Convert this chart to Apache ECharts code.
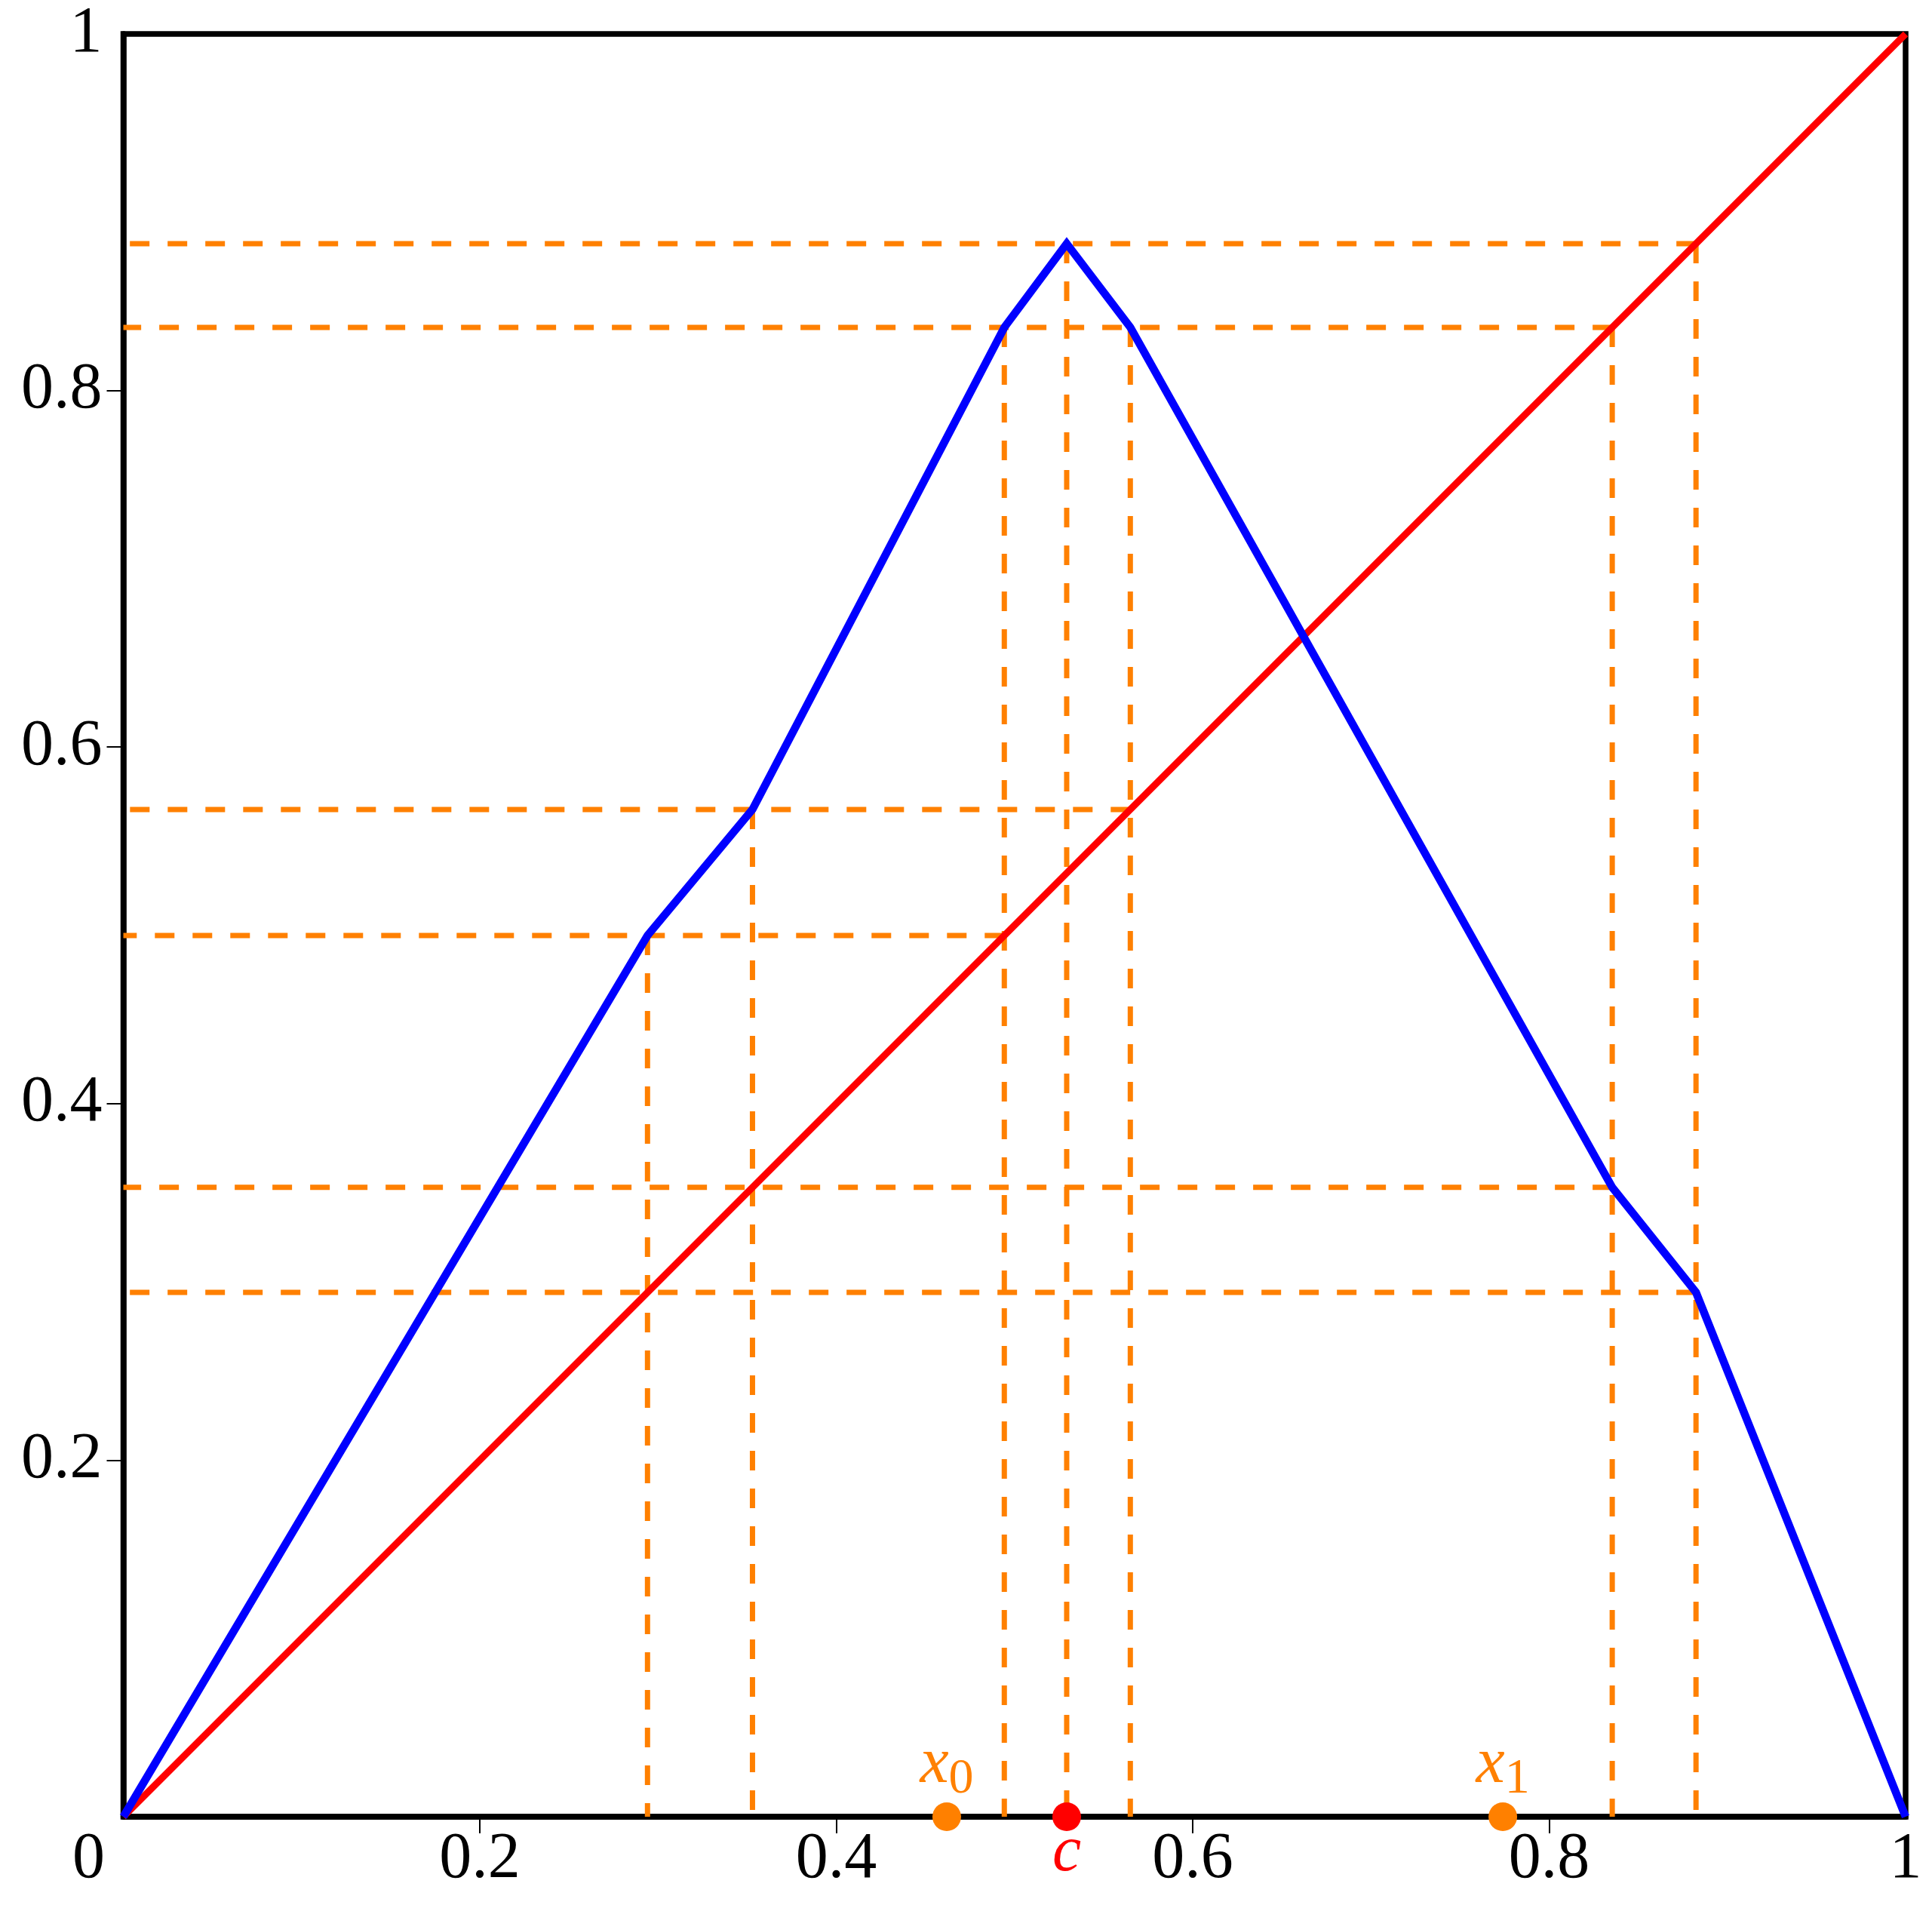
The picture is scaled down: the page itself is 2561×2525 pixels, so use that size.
<!DOCTYPE html>
<html>
<head>
<meta charset="utf-8">
<script src="https://cdn.jsdelivr.net/npm/echarts@6/dist/echarts.min.js"></script>
<style>
  html, body { margin: 0; padding: 0; background: #fff; }
  #chart { width: 2561px; height: 2525px; }
</style>
</head>
<body>
<div id="chart"></div>
<script>
// piecewise map (blue)
const mapX = [0, 0.2941, 0.353, 0.4943, 0.5293, 0.565, 0.8354, 0.8824, 1];
const mapY = [0, 0.4943, 0.565, 0.8354, 0.8824, 0.8354, 0.353, 0.2941, 0];
// diagonal y = x (red)
const diagX = [0, 1];
const diagY = [0, 1];
// dashed guides: horizontal ones (level, right end) and vertical ones (position, top end)
const guideHY = [0.8824, 0.8354, 0.565, 0.4943, 0.353, 0.2941];
const guideHEnd = [0.8824, 0.8354, 0.565, 0.4943, 0.8354, 0.8824];
const guideVX = [0.2941, 0.353, 0.4943, 0.5293, 0.565, 0.8354, 0.8824];
const guideVTop = [0.4943, 0.565, 0.8354, 0.8824, 0.8354, 0.8354, 0.8824];
// marked points on the x axis
const orbitX = [0.462, 0.774];
const orbitIdx = ['0', '1'];
const critX = [0.5293];
const critName = ['c'];
// ticks and tick labels
const tickVals = [0.2, 0.4, 0.6, 0.8];
const xLabelVals = [0, 0.2, 0.4, 0.6, 0.8, 1];
const yLabelVals = [0.2, 0.4, 0.6, 0.8, 1];

const ORANGE = '#ff8000';
const FONT = 'Liberation Serif';

var myChart = echarts.init(document.getElementById('chart'));

var guides = [];
guideHY.forEach(function (y, i) {
  guides.push([[guideHEnd[i], y], [0, y]]);
});
guideVX.forEach(function (x, i) {
  guides.push([[x, guideVTop[i]], [x, 0]]);
});

var series = guides.map(function (seg) {
  return {
    type: 'line',
    data: seg,
    symbol: 'none',
    silent: true,
    z: 2,
    lineStyle: { color: ORANGE, width: 7, type: [26, 24] }
  };
});

series.push({
  type: 'line',
  data: diagX.map(function (x, i) { return [x, diagY[i]]; }),
  symbol: 'none',
  z: 3,
  lineStyle: { color: '#ff0000', width: 9 }
});
series.push({
  type: 'line',
  data: mapX.map(function (x, i) { return [x, mapY[i]]; }),
  symbol: 'none',
  z: 4,
  lineStyle: { color: '#0000ff', width: 10.5, join: 'miter' }
});
series.push({
  type: 'scatter',
  data: orbitX.map(function (x) { return [x, 0]; }),
  symbolSize: 38,
  z: 5,
  itemStyle: { color: ORANGE, opacity: 1 },
  label: {
    show: true,
    position: 'inside',
    offset: [0, -64],
    formatter: function (p) { return '{v|x}{s|' + orbitIdx[p.dataIndex] + '}'; },
    rich: {
      v: { fontFamily: FONT, fontStyle: 'italic', fontSize: 86, color: ORANGE, lineHeight: 80, verticalAlign: 'top' },
      s: { fontFamily: FONT, fontSize: 66, color: ORANGE, lineHeight: 95, verticalAlign: 'bottom' }
    }
  }
});
series.push({
  type: 'scatter',
  data: critX.map(function (x) { return [x, 0]; }),
  symbolSize: 38,
  z: 5,
  itemStyle: { color: '#ff0000', opacity: 1 },
  label: {
    show: true,
    position: 'inside',
    offset: [0, 48],
    formatter: function (p) { return critName[p.dataIndex]; },
    fontFamily: FONT,
    fontStyle: 'italic',
    fontSize: 86,
    color: '#ff0000'
  }
});

var option = {
  animation: false,
  backgroundColor: '#fff',
  grid: {
    left: 163.5,
    right: 35,
    top: 45,
    bottom: 117,
    show: true,
    borderColor: '#000',
    borderWidth: 7.5,
    outerBoundsMode: 'none'
  },
  xAxis: {
    type: 'value',
    min: 0,
    max: 1,
    interval: 0.2,
    splitLine: { show: false },
    axisLine: { show: true, lineStyle: { color: '#000', width: 7.5 } },
    axisTick: { show: true, customValues: tickVals, length: 22, lineStyle: { color: '#000', width: 2 } },
    axisLabel: {
      customValues: xLabelVals,
      showMinLabel: true,
      showMaxLabel: true,
      margin: 14,
      color: '#000',
      fontFamily: FONT,
      fontSize: 86,
      formatter: function (v) { return v === 0 ? '{o|0}' : String(v); },
      rich: {
        o: { fontFamily: FONT, fontSize: 86, color: '#000', padding: [0, 92, 0, 0] }
      }
    }
  },
  yAxis: {
    type: 'value',
    min: 0,
    max: 1,
    interval: 0.2,
    splitLine: { show: false },
    axisLine: { show: true, lineStyle: { color: '#000', width: 7.5 } },
    axisTick: { show: true, customValues: tickVals, length: 22, lineStyle: { color: '#000', width: 2 } },
    axisLabel: {
      customValues: yLabelVals,
      showMinLabel: true,
      showMaxLabel: true,
      margin: 28,
      color: '#000',
      fontFamily: FONT,
      fontSize: 86,
      formatter: function (v) { return String(v); }
    }
  },
  series: series
};

myChart.setOption(option);
</script>
</body>
</html>
